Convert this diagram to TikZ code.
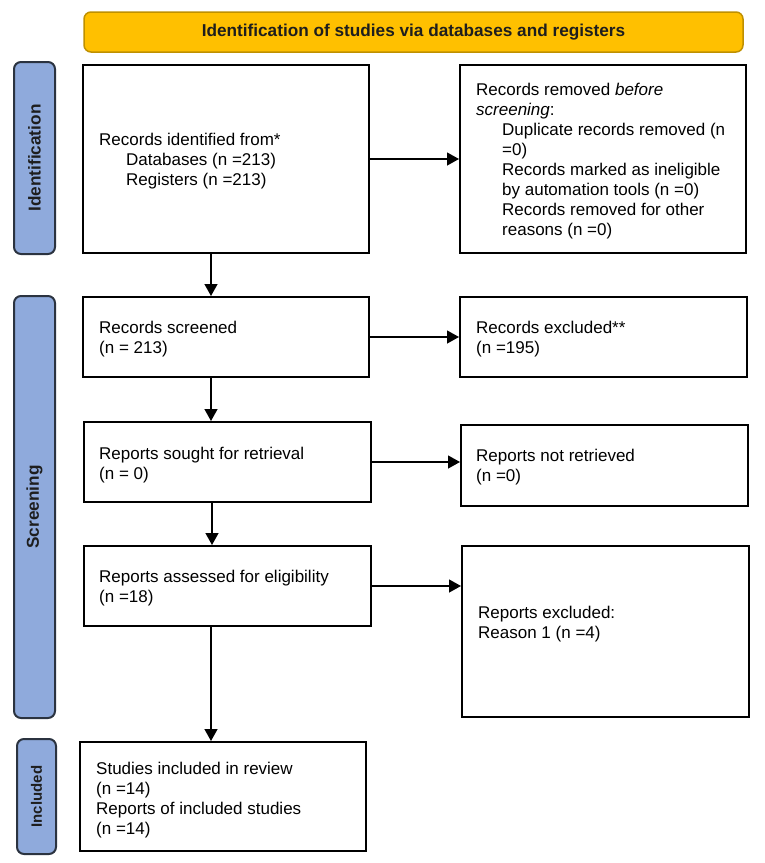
\documentclass[tikz,border=0pt]{standalone}
\usepackage{fontspec}
\setmainfont{Liberation Sans}
\usetikzlibrary{arrows.meta}
\definecolor{hdrfill}{HTML}{FFC000}
\definecolor{hdrline}{HTML}{BF9000}
\definecolor{barfill}{HTML}{8FAADC}
\definecolor{barline}{HTML}{2B3340}
\definecolor{lbltext}{HTML}{1E1E1E}
\begin{document}
\begin{tikzpicture}[x=1pt,y=-1pt,
  box/.style={draw=black,line width=2pt,inner sep=0pt},
  txt/.style={anchor=north west,inner sep=0pt,align=left,font=\fontsize{17}{20}\selectfont},
  hdr/.style={draw=hdrline,fill=hdrfill,line width=1.5pt,rounded corners=7pt,inner sep=0pt,
    font=\bfseries\fontsize{17.2}{20}\selectfont,text=lbltext},
  bar/.style={draw=barline,fill=barfill,line width=2pt,rounded corners=7pt,inner sep=0pt,
    rotate=90,font=\bfseries\fontsize{17.2}{20}\selectfont,text=lbltext},
  arr/.style={line width=1.3pt,-{Triangle[length=12pt,width=13pt]}}]
\useasboundingbox (0,0) rectangle (764,863);

% header and side bars
\node[hdr,minimum width=659pt,minimum height=40pt] (hdr) at (413.5,32) {Identification of studies via databases and registers};
\node[bar,minimum width=192pt,minimum height=41pt] (barI) at (34.5,158) {Identification};
\node[bar,minimum width=422pt,minimum height=41pt] (barS) at (34.5,507) {Screening};
\node[bar,minimum width=115pt,minimum height=39pt,font=\bfseries\fontsize{15}{18}\selectfont] (barN) at (36.5,796.5) {Included};

% boxes
\node[box,minimum width=286pt,minimum height=188pt] (b1) at (226,159) {};
\node[box,minimum width=286pt,minimum height=188pt] (b2) at (603,159) {};
\node[box,minimum width=286pt,minimum height=80pt] (b3) at (226,337) {};
\node[box,minimum width=287pt,minimum height=80pt] (b4) at (603.5,337) {};
\node[box,minimum width=287pt,minimum height=80pt] (b5) at (227.5,462) {};
\node[box,minimum width=287pt,minimum height=81pt] (b6) at (604.5,465.5) {};
\node[box,minimum width=287pt,minimum height=80pt] (b7) at (227.5,586) {};
\node[box,minimum width=287pt,minimum height=171pt] (b8) at (605.5,631.5) {};
\node[box,minimum width=286pt,minimum height=109pt] (b9) at (223,796.5) {};

% texts
\node[txt] (t1) at (99,131) {\strut Records identified from*\\\hspace*{27pt}Databases (n =213)\\\hspace*{27pt}Registers (n =213)};
\node[txt] (t2) at (476,81) {\strut Records removed \textit{before}\\\textit{screening}:\\\hspace*{26pt}Duplicate records removed (n\\\hspace*{26pt}=0)\\\hspace*{26pt}Records marked as ineligible\\\hspace*{26pt}by automation tools (n =0)\\\hspace*{26pt}Records removed for other\\\hspace*{26pt}reasons (n =0)};
\node[txt] (t3) at (99,319) {\strut Records screened\\(n = 213)};
\node[txt] (t4) at (476,319) {\strut Records excluded**\\(n =195)};
\node[txt] (t5) at (99,445) {\strut Reports sought for retrieval\\(n = 0)};
\node[txt] (t6) at (476,447) {\strut Reports not retrieved\\(n =0)};
\node[txt] (t7) at (99,568) {\strut Reports assessed for eligibility\\(n =18)};
\node[txt] (t8) at (478,604) {\strut Reports excluded:\\Reason 1 (n =4)};
\node[txt] (t9) at (96,760) {\strut Studies included in review\\(n =14)\\Reports of included studies\\(n =14)};

% connectors
\coordinate (colA) at (211,0);
\coordinate (colB) at (212,0);
\draw[arr] (b1.east) -- (b1.east -| b2.west);
\draw[arr] (b3.east) -- (b3.east -| b4.west);
\draw[arr] (b5.east) -- (b5.east -| b6.west);
\draw[arr] (b7.east) -- (b7.east -| b8.west);
\draw[arr] (b1.south -| colA) -- (b3.north -| colA);
\draw[arr] (b3.south -| colA) -- (b5.north -| colA);
\draw[arr] (b5.south -| colB) -- (b7.north -| colB);
\draw[arr] (b7.south -| colA) -- (b9.north -| colA);
\end{tikzpicture}
\end{document}
